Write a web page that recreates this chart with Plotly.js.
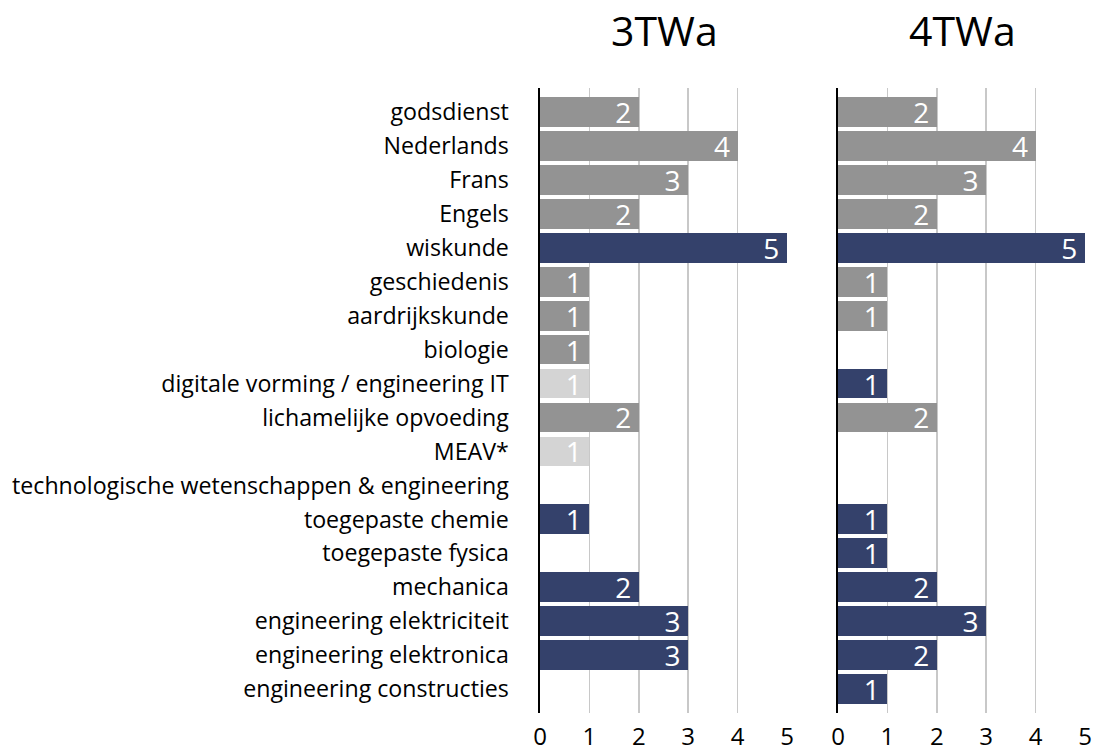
<!DOCTYPE html>
<html>
<head>
<meta charset="utf-8">
<script src="https://cdn.plot.ly/plotly-3.0.1.min.js"></script>
<style>html,body{margin:0;padding:0;background:#fff;}#chart{width:1095px;height:754px;}</style>
</head>
<body>
<div id="chart"></div>
<script>
const categories = [
  "godsdienst","Nederlands","Frans","Engels","wiskunde","geschiedenis","aardrijkskunde","biologie",
  "digitale vorming / engineering IT","lichamelijke opvoeding","MEAV*",
  "technologische wetenschappen & engineering","toegepaste chemie","toegepaste fysica","mechanica",
  "engineering elektriciteit","engineering elektronica","engineering constructies"
];
const panelTitles = ["3TWa","4TWa"];
// 3TWa
const general3  = [2,4,3,2,null,1,1,1,null,2,null,null,null,null,null,null,null,null];
const optional3 = [null,null,null,null,null,null,null,null,1,null,1,null,null,null,null,null,null,null];
const technical3= [null,null,null,null,5,null,null,null,null,null,null,null,1,null,2,3,3,null];
// 4TWa
const general4  = [2,4,3,2,null,1,1,null,null,2,null,null,null,null,null,null,null,null];
const optional4 = [null,null,null,null,null,null,null,null,null,null,null,null,null,null,null,null,null,null];
const technical4= [null,null,null,null,5,null,null,null,1,null,null,null,1,1,2,3,2,1];
const xTicks = [0,1,2,3,4,5];

const FONT = "'Open Sans', 'Noto Sans', sans-serif";
const colors = {general:"#939393", optional:"#d4d4d4", technical:"#34416b"};

function tr(vals, color, xa, ya){
  return {
    type:"bar", orientation:"h", y:categories, x:vals,
    xaxis:xa, yaxis:ya,
    marker:{color:color, line:{width:0}},
    text: vals.map(v => v==null ? "" : String(v) + "\u2009"),
    textposition:"inside", insidetextanchor:"end", constraintext:"none", textangle:0,
    textfont:{color:"#ffffff", size:28, family:FONT},
    hoverinfo:"x+y", showlegend:false, cliponaxis:false
  };
}
const data = [
  tr(general3, colors.general, "x","y"),
  tr(optional3, colors.optional, "x","y"),
  tr(technical3, colors.technical, "x","y"),
  tr(general4, colors.general, "x2","y2"),
  tr(optional4, colors.optional, "x2","y2"),
  tr(technical4, colors.technical, "x2","y2")
];

const W = 1095 - 540 - 9;
const xBase = {
  range:[0,5.02], tickvals:xTicks, ticktext:xTicks.map(String),
  showgrid:true, gridcolor:"#c8c8c8", gridwidth:1.5, zeroline:false,
  showline:false, ticks:"", tickfont:{size:24, family:FONT, color:"#000"},
  ticklabelstandoff:7, fixedrange:true
};
const yBase = {
  type:"category", categoryorder:"array", categoryarray:categories,
  range:[17.7,-0.7], showgrid:false, zeroline:false,
  showline:true, linecolor:"#000", linewidth:2.5, ticks:"",
  fixedrange:true
};
const layout = {
  width:1095, height:754,
  margin:{l:540, r:9, t:88, b:41},
  paper_bgcolor:"#fff", plot_bgcolor:"#fff",
  font:{family:FONT, color:"#000"},
  barmode:"stack", bargap:0.12,
  xaxis: Object.assign({}, xBase, {domain:[0, 248/W], anchor:"y"}),
  xaxis2: Object.assign({}, xBase, {domain:[298/W, 1], anchor:"y2"}),
  yaxis: Object.assign({}, yBase, {anchor:"x", tickfont:{size:23.2, family:FONT, color:"#000"}, ticklabelstandoff:24}),
  yaxis2: Object.assign({}, yBase, {anchor:"x2", showticklabels:false}),
  annotations: panelTitles.map((t,i)=>({
    text:t, xref:(i===0?"x domain":"x2 domain"), yref:"paper",
    x:0.5, y:1, yshift:28, yanchor:"bottom", showarrow:false,
    font:{size:41, family:FONT, color:"#000"}
  }))
};
Plotly.newPlot("chart", data, layout, {displayModeBar:false, staticPlot:true});
</script>
</body>
</html>
